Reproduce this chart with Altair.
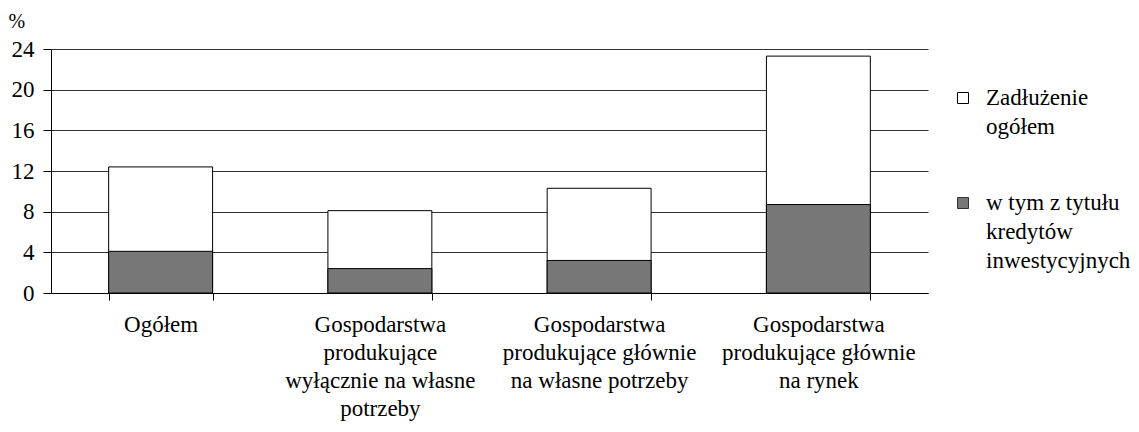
import altair as alt
import pandas as pd

categories = [
    "Ogółem",
    "Gospodarstwa|produkujące|wyłącznie na własne|potrzeby",
    "Gospodarstwa|produkujące głównie|na własne potrzeby",
    "Gospodarstwa|produkujące głównie|na rynek",
]
total_debt = [12.4, 8.1, 10.3, 23.3]
investment_credit = [4.1, 2.4, 3.2, 8.7]
series_names = ["Zadłużenie|ogółem", "w tym z tytułu|kredytów|inwestycyjnych"]
y_ticks = [0, 4, 8, 12, 16, 20, 24]

df = pd.DataFrame({"cat": categories, "total": total_debt, "invest": investment_credit})

FONT = "Liberation Serif, Tinos, Noto Serif, DejaVu Serif, serif"
HATCH = "#777777"

x_enc = alt.X(
    "cat:N",
    sort=categories,
    title=None,
    scale=alt.Scale(paddingInner=0.526, paddingOuter=0.263),
    axis=alt.Axis(
        labelAngle=0,
        labelExpr="split(datum.label, '|')",
        labelFont=FONT,
        labelFontSize=23,
        labelLineHeight=28,
        labelColor="black",
        labelPadding=13,
        labelBaseline="top",
        labelLimit=400,
        tickBand="extent",
        tickSize=7,
        tickColor="black",
        domainColor="black",
        grid=False,
    ),
)

y_axis = alt.Axis(
    values=y_ticks,
    title="%",
    titleAngle=0,
    titleX=-43,
    titleY=-38,
    titleAlign="left",
    titleBaseline="top",
    titleFont=FONT,
    titleFontSize=20,
    titleFontWeight="normal",
    titleColor="black",
    labelFont=FONT,
    labelFontSize=23,
    labelColor="black",
    labelPadding=9,
    tickSize=8,
    tickColor="black",
    domainColor="black",
    grid=True,
    gridColor="#333333",
    gridWidth=1,
)

total_bars = alt.Chart(df).mark_bar(fill="white", stroke="black", strokeWidth=1).encode(
    x=x_enc,
    y=alt.Y("total:Q", scale=alt.Scale(domain=[0, 24], nice=False), axis=y_axis),
)

invest_bars = alt.Chart(df).mark_bar(fill=HATCH, stroke="black", strokeWidth=1).encode(
    x=alt.X("cat:N", sort=categories),
    y=alt.Y("invest:Q"),
)

leg1 = pd.DataFrame({"name": [series_names[0]]})
leg2 = pd.DataFrame({"name": [series_names[1]]})

sym1 = alt.Chart(leg1).mark_square(size=121, fill="white", stroke="black", strokeWidth=1, opacity=1, clip=False).encode(
    x=alt.value(912), y=alt.value(49)
)
sym2 = alt.Chart(leg2).mark_square(size=121, fill=HATCH, stroke="#333333", strokeWidth=1, opacity=1, clip=False).encode(
    x=alt.value(912), y=alt.value(154)
)
txt_kw = dict(font=FONT, fontSize=23, align="left", baseline="middle", lineHeight=29, color="black", clip=False)
lab1 = alt.Chart(leg1).transform_calculate(lines="split(datum.name, '|')").mark_text(**txt_kw).encode(
    x=alt.value(935), y=alt.value(49), text="lines:N"
)
lab2 = alt.Chart(leg2).transform_calculate(lines="split(datum.name, '|')").mark_text(**txt_kw).encode(
    x=alt.value(935), y=alt.value(154), text="lines:N"
)

chart = (
    alt.layer(total_bars, invest_bars, sym1, sym2, lab1, lab2)
    .properties(
        width=877,
        height=244,
        autosize=alt.AutoSizeParams(type="none"),
        padding={"left": 43, "top": 41, "right": 203, "bottom": 131},
    )
    .configure_view(stroke=None)
)

chart.save("out.html", embed_options={"renderer": "svg", "actions": False})
